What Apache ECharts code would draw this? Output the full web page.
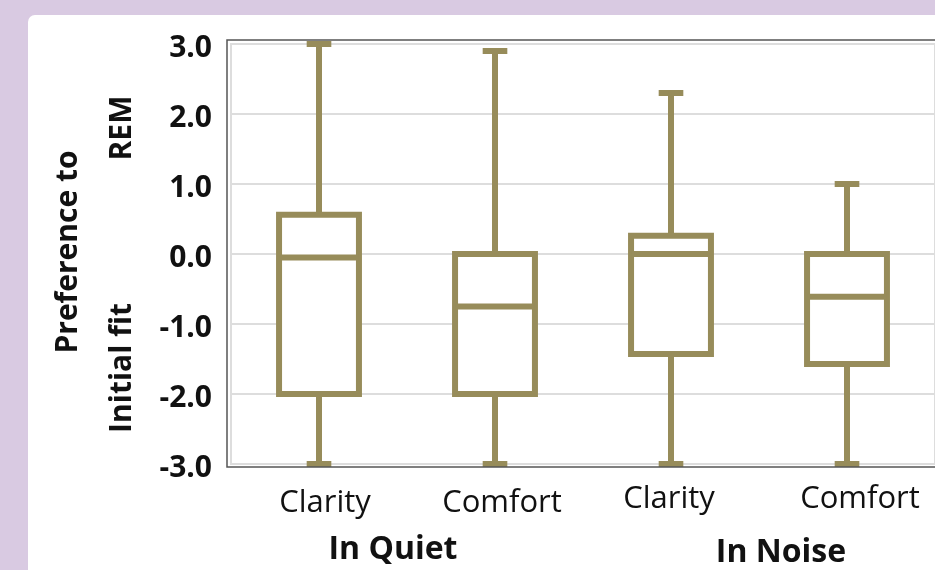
<!DOCTYPE html>
<html>
<head>
<meta charset="utf-8">
<script src="https://cdn.jsdelivr.net/npm/echarts@6/dist/echarts.min.js"></script>
<style>
html,body{margin:0;padding:0;background:#D9CAE2;}
#chart{width:935px;height:570px;}
</style>
</head>
<body>
<div id="chart"></div>
<script>
const categories = ['Clarity', 'Comfort', 'Clarity', 'Comfort'];
const groupLabels = ['In Quiet', 'In Noise'];
const whiskerLow = [-3.0, -3.0, -3.0, -3.0];
const q1 = [-2.0, -2.0, -1.43, -1.57];
const median = [-0.05, -0.75, 0.0, -0.61];
const q3 = [0.56, 0.0, 0.26, 0.0];
const whiskerHigh = [3.0, 2.9, 2.3, 1.0];

const boxColor = '#978C5A';
const FONT = '"Open Sans", "Noto Sans", sans-serif';

const data = categories.map((c, i) => [i, whiskerLow[i], q1[i], median[i], q3[i], whiskerHigh[i]]);

function renderItem(params, api) {
  const i = api.value(0);
  const band = api.size([1, 0])[0];
  const halfBox = band * 0.227;
  const halfCap = band * 0.07;
  const pLow = api.coord([i, api.value(1)]);
  const pQ1 = api.coord([i, api.value(2)]);
  const pMed = api.coord([i, api.value(3)]);
  const pQ3 = api.coord([i, api.value(4)]);
  const pHigh = api.coord([i, api.value(5)]);
  const x = pLow[0];
  const st = { stroke: boxColor, lineWidth: 6, fill: null };
  return {
    type: 'group',
    children: [
      { type: 'line', shape: { x1: x, y1: pLow[1], x2: x, y2: pQ1[1] }, style: st },
      { type: 'line', shape: { x1: x, y1: pQ3[1], x2: x, y2: pHigh[1] }, style: st },
      { type: 'line', shape: { x1: x - halfCap, y1: pLow[1], x2: x + halfCap, y2: pLow[1] }, style: st },
      { type: 'line', shape: { x1: x - halfCap, y1: pHigh[1], x2: x + halfCap, y2: pHigh[1] }, style: st },
      { type: 'rect', shape: { x: x - halfBox, y: pQ3[1], width: halfBox * 2, height: pQ1[1] - pQ3[1] }, style: { stroke: boxColor, lineWidth: 6, fill: '#fff' } },
      { type: 'line', shape: { x1: x - halfBox, y1: pMed[1], x2: x + halfBox, y2: pMed[1] }, style: st }
    ]
  };
}

const chart = echarts.init(document.getElementById('chart'), null, { renderer: 'canvas' });
chart.setOption({
  backgroundColor: '#D9CAE2',
  animation: false,
  grid: { left: 231, top: 44, width: 704, height: 420, show: true, backgroundColor: '#fff', borderColor: '#DDDDDD', borderWidth: 2 },
  xAxis: {
    type: 'category',
    data: categories,
    axisLine: { show: false },
    axisTick: { show: false },
    splitLine: { show: false },
    axisLabel: {
      interval: 0,
      hideOverlap: false,
      color: '#111', fontFamily: FONT, fontSize: 31, margin: 20,
      formatter: (v, i) => '{a' + i + '|' + v + '}',
      rich: {
        a0: { fontFamily: FONT, fontSize: 31, color: '#111', padding: [4, 0, 0, 12] },
        a1: { fontFamily: FONT, fontSize: 31, color: '#111', padding: [4, 0, 0, 14] },
        a2: { fontFamily: FONT, fontSize: 31, color: '#111', padding: [0, 4, 4, 0] },
        a3: { fontFamily: FONT, fontSize: 31, color: '#111', padding: [0, 0, 4, 26] }
      }
    }
  },
  yAxis: {
    type: 'value',
    min: -3, max: 3, interval: 1,
    axisLine: { show: false },
    axisTick: { show: false },
    splitLine: { show: true, lineStyle: { color: '#DDDDDD', width: 2 } },
    axisLabel: { color: '#111', fontFamily: FONT, fontSize: 30, fontWeight: 'bold', margin: 19,
      formatter: v => '{t|' + v.toFixed(1) + '}',
      rich: { t: { fontFamily: FONT, fontSize: 30, fontWeight: 'bold', color: '#111', padding: [8, 0, 0, 0] } } }
  },
  graphic: [
    { type: 'rect', z: -10, shape: { x: 28, y: 15, width: 940, height: 600, r: 7 }, style: { fill: '#fff' } },
    { type: 'rect', z: 100, shape: { x: 227, y: 40, width: 720, height: 427 }, style: { stroke: '#555', lineWidth: 1.5, fill: null } },
    { type: 'text', x: 68, y: 252, rotation: Math.PI / 2, style: { text: 'Preference to', font: 'bold 30px ' + FONT, fill: '#111', align: 'center', verticalAlign: 'middle' } },
    { type: 'text', x: 122, y: 128, rotation: Math.PI / 2, style: { text: 'REM', font: 'bold 30px ' + FONT, fill: '#111', align: 'center', verticalAlign: 'middle' } },
    { type: 'text', x: 122, y: 368, rotation: Math.PI / 2, style: { text: 'Initial fit', font: 'bold 30px ' + FONT, fill: '#111', align: 'center', verticalAlign: 'middle' } },
    { type: 'text', x: 393, y: 550, style: { text: groupLabels[0], font: 'bold 32px ' + FONT, fill: '#111', align: 'center', verticalAlign: 'middle' } },
    { type: 'text', x: 781, y: 553, style: { text: groupLabels[1], font: 'bold 32px ' + FONT, fill: '#111', align: 'center', verticalAlign: 'middle' } }
  ],
  series: [{
    type: 'custom',
    renderItem: renderItem,
    data: data,
    encode: { x: 0, y: [1, 2, 3, 4, 5] },
    clip: false
  }]
});
</script>
</body>
</html>
